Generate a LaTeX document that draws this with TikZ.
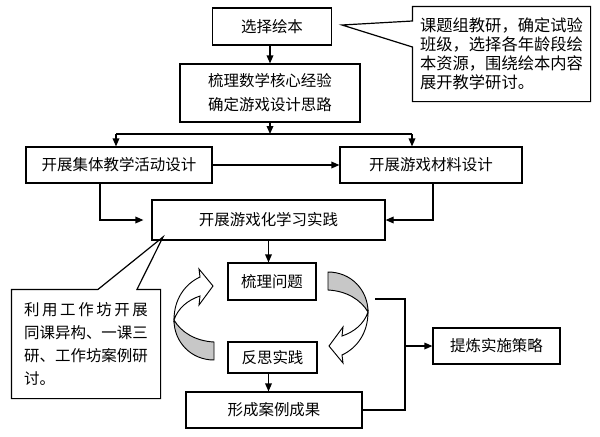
\documentclass[tikz,border=0pt]{standalone}
\usepackage{fontspec}
\newfontfamily\cjk{Noto Sans CJK SC}
\usetikzlibrary{arrows.meta,calc}

\begin{document}
\begin{tikzpicture}[x=0.75pt,y=-0.75pt,line width=0.9pt,
	box/.style={draw,inner sep=0pt,align=center,font=\cjk\fontsize{11.6pt}{18pt}\selectfont},
	callout/.style={inner sep=0pt,align=left},
	>={Triangle[length=6pt,width=5pt]}
]
	\useasboundingbox (0,0) rectangle (600,436);
	% main column
	\node[box,minimum width=89.25pt,minimum height=27.75pt] (pick) at (272,26.5) {选择绘本};
	\node[box,minimum width=135pt,minimum height=43.5pt] (sort) at (270,93) {梳理数学核心经验\\确定游戏设计思路};
	\node[box,minimum width=139.5pt,minimum height=27pt] (group) at (119,165) {开展集体教学活动设计};
	\node[box,minimum width=136.5pt,minimum height=27pt] (mat) at (431,165) {开展游戏材料设计};
	\node[box,minimum width=174.75pt,minimum height=30pt] (prac) at (268.5,220) {开展游戏化学习实践};
	\node[box,minimum width=66pt,minimum height=27.75pt] (issue) at (272,281.5) {梳理问题};
	\node[box,minimum width=66.75pt,minimum height=23.25pt] (refl) at (272.5,357.5) {反思实践};
	\node[box,minimum width=132pt,minimum height=27pt] (case) at (274,410) {形成案例成果};
	\node[box,minimum width=95.25pt,minimum height=27pt] (strat) at (496.5,346) {提炼实施策略};

	% callouts
	\node[callout,text width=122pt,minimum width=132.75pt,minimum height=70.5pt,
		font=\cjk\fontsize{12.2pt}{14.25pt}\selectfont] (note) at (501.5,54)
		{课题组教研，确定试验\\班级，选择各年龄段绘\\本资源，围绕绘本内容\\展开教学研讨。};
	\node[callout,text width=92.8pt,minimum width=111pt,minimum height=81pt,
		font=\cjk\fontsize{11.6pt}{17.25pt}\selectfont] (work) at (86,344)
		{\makebox[92.8pt][s]{利\hfill 用\hfill 工\hfill 作\hfill 坊\hfill 开\hfill 展}\\同课异构、一课三\\研、工作坊案例研\\讨。};
	\coordinate (nb1) at (413,21);
	\coordinate (nb2) at (413,47);
	\coordinate (ntip) at (342,25);
	\draw (note.north west) -- (note.north east) -- (note.south east) -- (note.south west)
		-- (note.west |- nb2) -- (ntip) -- (note.west |- nb1) -- cycle;
	\coordinate (wb1) at (98,290);
	\coordinate (wb2) at (137,290);
	\coordinate (wtip) at (163,237);
	\draw (work.north west) -- (work.north west -| wb1) -- (wtip) -- (work.north west -| wb2)
		-- (work.north east) -- (work.south east) -- (work.south west) -- cycle;

	% connectors
	\coordinate (forkL) at (116,134);
	\coordinate (forkR) at (412,134);
	\draw[->] (pick.south -| sort) -- (sort.north);
	\draw[->] (sort.south) -- (sort.south |- forkL);
	\draw (forkL) -- (forkR);
	\draw[->] (forkL) -- (forkL |- group.north);
	\draw[->] (forkR) -- (forkR |- mat.north);
	\draw[->] (group) -- (mat);
	\coordinate (gdrop) at (100,220);
	\coordinate (mdrop) at (433,220);
	\draw[->] (group.south -| gdrop) |- ([xshift=-6pt]prac.west);
	\draw[->] (mat.south -| mdrop) |- (prac.east);
	\draw[->] (prac.south) -- (prac.south |- issue.north);
	\draw[->] (prac.south |- refl.south) -- (prac.south |- case.north);
	\coordinate (loopout) at (375,299);
	\coordinate (bus) at (405,350);
	\draw (loopout) -- (loopout -| bus) -- (bus |- case.east) -- (case.east);
	\draw[->] (bus |- strat.west) -- (strat.west);

	% turning arrows
	\foreach \ang in {0,180}{
		\begin{scope}[shift={(271,316)},rotate=\ang,line width=0.7pt]
			\filldraw[fill=black!22] (57,-44) .. controls (80,-44) and (97,-26) .. (97,-4)
				.. controls (90,-16) and (76,-25) .. (57,-26) -- cycle;
			\filldraw[fill=white] (97,-4) .. controls (97,17) and (86,32) .. (71,39) -- (72,47)
				-- (58,30) -- (72,11) -- (71,20) .. controls (83,16) and (93,8) .. (97,-4) -- cycle;
		\end{scope}
	}
\end{tikzpicture}
\end{document}
